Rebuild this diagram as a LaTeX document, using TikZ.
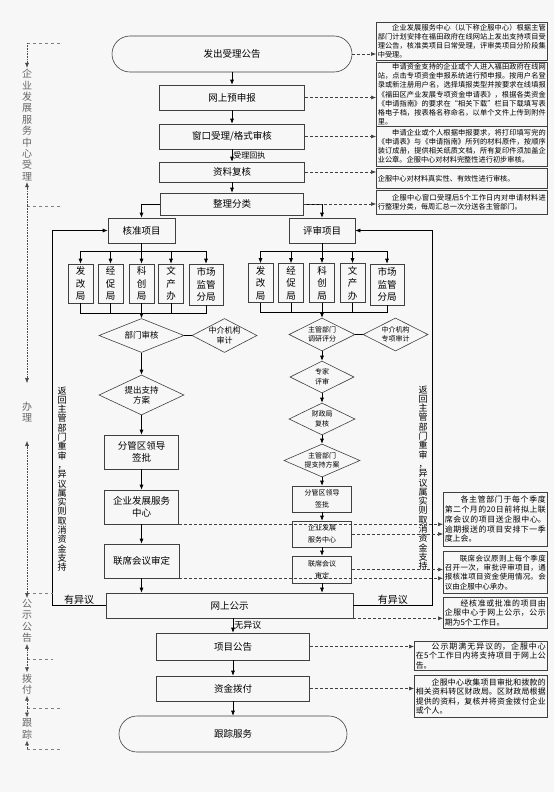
\documentclass[tikz,border=0pt]{standalone}
\usepackage{fontspec}
\setmainfont{Noto Sans CJK SC}
\usepackage{tikz}
\usetikzlibrary{arrows.meta, shapes.geometric}
\XeTeXlinebreaklocale "zh"
\XeTeXlinebreakskip = 0pt plus 1pt

\begin{document}
\begin{tikzpicture}[>={Latex[length=5pt,width=4pt]}, x=1pt, y=-1pt, line width=0.6pt,
    proc/.style={draw=black!75, align=center, inner sep=1pt, font=\fontsize{9.5}{12}\selectfont},
    term/.style={proc, rounded corners=18pt},
    office/.style={draw=black!75, align=center, inner sep=1pt, minimum width=25pt, minimum height=39pt, font=\fontsize{9.5}{12.5}\selectfont},
    decide/.style={diamond, draw=black!75, align=center, inner sep=-2pt, aspect=2.2, font=\fontsize{8.5}{10}\selectfont},
    small/.style={font=\fontsize{7}{9.5}\selectfont},
    note/.style={draw=black!75, align=justify, inner xsep=1.5pt, inner ysep=1pt, anchor=north west, font=\fontsize{7.2}{9.2}\selectfont},
    stage/.style={align=center, inner sep=1pt, text=black!60, font=\fontsize{10}{11.4}\selectfont},
    stageline/.style={->, densely dotted, black!70},
    stagerule/.style={dashed, black!50},
    link/.style={->, dash pattern=on 3pt off 2pt, black!75}]
    \useasboundingbox[fill=black!3] (0,0) rectangle (554,792);

    % Main line
    \node[term, minimum width=240pt, minimum height=36pt] (start) at (232,54) {发出受理公告};
    \node[proc, minimum width=145pt, minimum height=25pt] (prereg) at (232,97.5) {网上预申报};
    \node[proc, minimum width=145pt, minimum height=25pt] (window) at (232,136.5) {窗口受理/格式审核};
    \node[proc, minimum width=145pt, minimum height=20pt] (recheck) at (232,172) {资料复核};
    \node[proc, minimum width=143pt, minimum height=22pt] (sorting) at (232,204) {整理分类};
    \draw[->] (start) -- (prereg);
    \draw[->] (prereg) -- (window);
    \draw[->] (window) -- (recheck) node[midway, right, inner sep=1pt, font=\fontsize{8}{9}\selectfont] {受理回执};
    \draw[->] (recheck) -- (sorting);

    % Two kinds of projects
    \node[proc, minimum width=67pt, minimum height=25pt] (approve) at (141.5,230.5) {核准项目};
    \node[proc, minimum width=66pt, minimum height=25pt] (review) at (322,230.5) {评审项目};
    \draw[->] (sorting.west) -| (approve);
    \draw[->] (sorting.east) -| (review);

    % Offices, left
    \foreach \i/\x/\txt in {1/80.5/{发\\改\\局}, 2/110.5/{经\\促\\局}, 3/141.5/{科\\创\\局}, 4/171/{文\\产\\办}}
        \node[office] (L\i) at (\x,283.5) {\txt};
    \node[office, minimum width=34pt, minimum height=41pt] (L5) at (206,284.5) {市场\\监管\\分局};
    \coordinate (Ltop) at (141.5,251);
    \coordinate (Lbot) at (141.5,313);
    \draw (approve) -- (Ltop);
    \foreach \i in {1,...,5} {
        \draw[->] (Ltop) -| (L\i);
        \draw (L\i) |- (Lbot);
    }

    % Offices, right
    \foreach \i/\x/\txt in {1/260.5/{发\\改\\局}, 2/291/{经\\促\\局}, 3/322/{科\\创\\局}, 4/352.5/{文\\产\\办}}
        \node[office] (R\i) at (\x,283) {\txt};
    \node[office, minimum width=34pt, minimum height=41pt] (R5) at (387,284.5) {市场\\监管\\分局};
    \coordinate (Rtop) at (322,251);
    \coordinate (Rbot) at (322,312.5);
    \draw (review) -- (Rtop);
    \foreach \i in {1,...,5} {
        \draw[->] (Rtop) -| (R\i);
        \draw (R\i) |- (Rbot);
    }

    % Left chain
    \node[decide, minimum width=85pt, minimum height=34pt] (Ldept) at (141.5,335.5) {部门审核};
    \node[decide, minimum width=65pt, minimum height=34pt, font=\fontsize{8}{9.5}\selectfont] (Lagency) at (224.5,335.5) {中介机构\\审计};
    \node[decide, minimum width=85pt, minimum height=40pt] (Lplan) at (141.5,395) {提出支持\\方案};
    \node[proc, minimum width=74pt, minimum height=34pt] (Lsign) at (141.5,452) {分管区领导\\签批};
    \node[proc, minimum width=74pt, minimum height=34pt] (Lcenter) at (141.5,507) {企业发展服务\\中心};
    \node[proc, minimum width=75pt, minimum height=34pt] (Lmeet) at (141.5,561) {联席会议审定};
    \draw[->] (Lbot) -- (Ldept);
    \draw (Ldept) -- (Lagency);
    \draw[->] (Ldept) -- (Lplan);
    \draw[->] (Lplan) -- (Lsign);
    \draw[->] (Lsign) -- (Lcenter);
    \draw[->] (Lcenter) -- (Lmeet);

    % Right chain
    \node[decide, small, minimum width=66pt, minimum height=33pt] (Rdept) at (322,334.5) {主管部门\\调研评分};
    \node[decide, small, minimum width=65pt, minimum height=33pt] (Ragency) at (395.5,334.5) {中介机构\\专项审计};
    \node[decide, small, minimum width=64pt, minimum height=32pt] (Rexpert) at (322,377) {专家\\评审};
    \node[decide, small, minimum width=66pt, minimum height=32pt] (Rfinance) at (322,419) {财政局\\复核};
    \node[decide, small, minimum width=76pt, minimum height=33pt] (Rplan) at (322,460.5) {主管部门\\提支持方案};
    \node[proc, small, font=\fontsize{7}{12}\selectfont, minimum width=59pt, minimum height=26pt] (Rsign) at (322,499) {分管区领导\\签批};
    \node[proc, small, font=\fontsize{7}{12}\selectfont, minimum width=59pt, minimum height=26pt] (Rcenter) at (322,534) {企业发展\\服务中心};
    \node[proc, small, font=\fontsize{7}{12}\selectfont, minimum width=59pt, minimum height=27pt] (Rmeet) at (322,569.5) {联席会议\\审定};
    \draw[->] (Rbot) -- (Rdept);
    \draw (Rdept) -- (Ragency);
    \draw[->] (Rdept) -- (Rexpert);
    \draw[->] (Rexpert) -- (Rfinance);
    \draw[->] (Rfinance) -- (Rplan);
    \draw[->] (Rplan) -- (Rsign);
    \draw[->] (Rsign) -- (Rcenter);
    \draw[->] (Rcenter) -- (Rmeet);

    % Publish and return
    \node[proc, minimum width=247pt, minimum height=25pt] (publish) at (229.5,605.5) {网上公示};
    \draw[->] (Lmeet) -- (Lmeet |- publish.north);
    \draw[->] (Rmeet) -- (Rmeet |- publish.north);
    \draw[->] (publish.west) -- ++(-53,0) node[midway, above, inner sep=1pt] {有异议} |- (approve.west);
    \draw[->] (publish.east) -- ++(79,0) node[midway, above, inner sep=1pt] {有异议} |- (review.east);
    \node[align=center, inner sep=0pt, font=\fontsize{9}{9.3}\selectfont] (Lback) at (62,479) {返\\回\\主\\管\\部\\门\\重\\审\\，\\异\\议\\属\\实\\则\\取\\消\\资\\金\\支\\持};
    \node[align=center, inner sep=0pt, font=\fontsize{9}{9.3}\selectfont] (Rback) at (423,478) {返\\回\\主\\管\\部\\门\\重\\审\\，\\异\\议\\属\\实\\则\\取\\消\\资\\金\\支\\持};

    % Tail
    \node[proc, minimum width=153pt, minimum height=27pt] (notice) at (233,646.5) {项目公告};
    \node[proc, minimum width=153pt, minimum height=25pt] (funding) at (233,688.5) {资金拨付};
    \node[term, minimum width=228pt, minimum height=36pt] (follow) at (233,734) {跟踪服务};
    \draw[->] (publish.south -| notice.north) -- (notice.north) node[midway, right, inner sep=1pt, font=\fontsize{9}{10}\selectfont] {无异议};
    \draw[->] (notice) -- (funding);
    \draw[->] (funding) -- (follow);

    % Notes
    \node[note, text width=168pt, minimum height=38pt] (n1) at (376,22) {\hspace*{2em}企业发展服务中心（以下称企服中心）根据主管部门计划安排在福田政府在线网站上发出支持项目受理公告，核准类项目日常受理，评审类项目分阶段集中受理。};
    \node[note, text width=168pt, minimum height=62pt] (n2) at (376,62) {\hspace*{2em}申请资金支持的企业或个人进入福田政府在线网站，点击专项资金申报系统进行预申报。按用户名登录或新注册用户名，选择填报类型并按要求在线填报《福田区产业发展专项资金申请表》，根据各类资金《申请指南》的要求在“相关下载”栏目下载填写表格电子档，按表格名称命名，以单个文件上传到附件里。};
    \node[note, text width=168pt, minimum height=40pt] (n3) at (376,126) {\hspace*{2em}申请企业或个人根据申报要求，将打印填写完的《申请表》与《申请指南》所列的材料原件，按顺序装订成册，提供相关纸质文档，所有复印件须加盖企业公章。企服中心对材料完整性进行初步审核。};
    \node[note, text width=168pt, minimum height=20pt] (n4) at (376,168) {企服中心对材料真实性、有效性进行审核。};
    \node[note, text width=168pt, minimum height=24pt] (n5) at (376,190) {\hspace*{2em}企服中心窗口受理后5个工作日内对申请材料进行整理分类，每周汇总一次分送各主管部门。};
    \node[note, text width=101pt, minimum height=54pt, font=\fontsize{7.9}{9.8}\selectfont] (n6) at (443,492) {\hspace*{2em}各主管部门于每个季度第二个月的20日前将拟上联席会议的项目送企服中心。逾期报送的项目安排下一季度上会。};
    \node[note, text width=101pt, minimum height=42pt, font=\fontsize{7.5}{9.4}\selectfont] (n7) at (443,551) {\hspace*{2em}联席会议原则上每个季度召开一次，审批评审项目，通报核准项目资金使用情况。会议由企服中心承办。};
    \node[note, text width=101pt, minimum height=31pt, font=\fontsize{7.9}{9.4}\selectfont] (n8) at (443,597) {\hspace*{2em}经核准或批准的项目由企服中心于网上公示，公示期为5个工作日。};
    \node[note, text width=130pt, minimum height=29pt, font=\fontsize{7.9}{9.2}\selectfont] (n9) at (414,641) {\hspace*{2em}公示期满无异议的，企服中心在5个工作日内将支持项目于网上公告。};
    \node[note, text width=130pt, minimum height=42pt, font=\fontsize{7.9}{9.4}\selectfont] (n10) at (414,675) {\hspace*{2em}企服中心收集项目审批和拨款的相关资料转区财政局。区财政局根据提供的资料，复核并将资金拨付企业或个人。};

    % Dashed links to notes
    \draw[link] (start) -- (start -| n1.west);
    \draw[link] (prereg) -- (prereg -| n2.west);
    \draw[link] (window) -- (window -| n3.west);
    \draw[link] (recheck) -- (recheck -| n4.west);
    \draw[link] (sorting) -- (sorting -| n5.west);
    \draw[link] (Lcenter.south east) -- (Lcenter.south east -| n6.west);
    \draw[link] (Rcenter) -- (Rcenter -| n6.west);
    \draw[link] (Rmeet) -- (Rmeet -| n7.west);
    \draw[link] (Lmeet.south east) -- (Lmeet.south east -| n7.west);
    \draw[link] (publish.south east) -- (publish.south east -| n8.west);
    \draw[link] (notice) -- (notice -| n9.west);
    \draw[link] (funding) -- (funding -| n10.west);

    % Stages
    \coordinate (S0) at (27,43);
    \coordinate (S1) at (27,206);
    \coordinate (S2) at (27,593);
    \coordinate (S3) at (27,659);
    \coordinate (S4) at (27,708);
    \coordinate (S5) at (27,749);
    \draw[stagerule] (S0) -- ++(35,0);
    \draw[stagerule] (S1) -- ++(35,0);
    \draw[stagerule] (S2) -- ++(26,0);
    \draw[stagerule] (S3) -- ++(26,0);
    \draw[stagerule] (S4) -- ++(33,0);
    \draw[stagerule] (S5) -- ++(33,0);
    \node[stage] (T1) at (27,125) {企\\业\\发\\展\\服\\务\\中\\心\\受\\理};
    \node[stage, minimum height=57pt] (T2) at (27,412) {办\\理};
    \node[stage] (T3) at (27,621) {公\\示\\公\\告};
    \node[stage] (T4) at (27,684) {拨\\付};
    \node[stage] (T5) at (27,729) {跟\\踪};
    \draw[stageline] (S0) -- (T1.north);
    \draw[stageline] (S1) -- (T1.south);
    \draw[stageline] (S1) -- (T2.north);
    \draw[stageline] (S2) -- (T2.south);
    \draw[stageline] (S2) -- (T3.north);
    \draw[stageline] (S3) -- (T3.south);
    \draw[stageline] (S3) -- (T4.north);
    \draw[stageline] (S4) -- (T4.south);
    \draw[stageline] (S4) -- (T5.north);
    \draw[stageline] (S5) -- (T5.south);
\end{tikzpicture}
\end{document}
